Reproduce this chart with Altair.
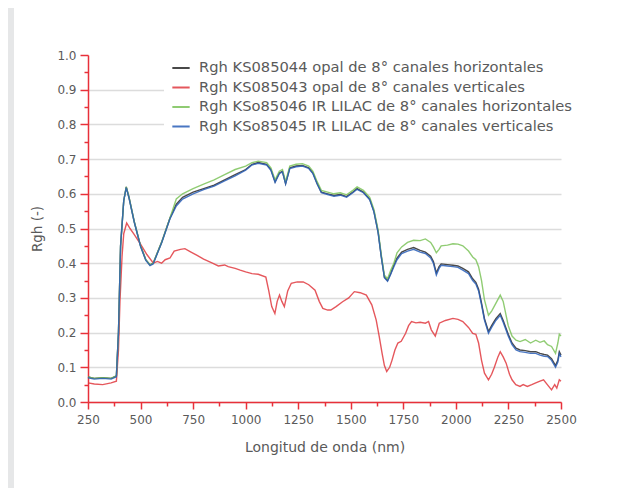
import altair as alt
import pandas as pd

series_names = [
    "Rgh KS085044 opal de 8° canales horizontales",
    "Rgh KS085043 opal de 8° canales verticales",
    "Rgh KSo85046 IR LILAC de 8° canales horizontales",
    "Rgh KSo85045 IR LILAC de 8° canales verticales",
]
series_colors = ["#2a2a2a", "#e03a40", "#7cc35a", "#2a5fb8"]

common_wl = [250, 280, 320, 360, 385, 395, 405, 420, 432, 445, 470, 500, 525, 545, 560, 600, 640]
common_v = [0.072, 0.068, 0.07, 0.068, 0.075, 0.2, 0.45, 0.58, 0.62, 0.59, 0.52, 0.45, 0.41, 0.395, 0.40, 0.46, 0.53]

mid_wl = [670, 700, 750, 800, 850, 900, 950, 1000, 1030, 1060, 1100, 1120, 1140, 1160, 1175, 1190, 1210,
          1240, 1270, 1300, 1320, 1340, 1360, 1390, 1420, 1450, 1480, 1510, 1530, 1560, 1590, 1610, 1630,
          1645, 1660, 1675, 1690, 1705]
black_mid = [0.57, 0.59, 0.605, 0.615, 0.625, 0.64, 0.655, 0.67, 0.685, 0.69, 0.685, 0.67, 0.635, 0.66, 0.665,
             0.63, 0.675, 0.68, 0.682, 0.675, 0.66, 0.63, 0.605, 0.60, 0.595, 0.598, 0.592, 0.605, 0.615, 0.605,
             0.585, 0.55, 0.49, 0.42, 0.36, 0.35, 0.37, 0.395]
green_mid = [0.585, 0.60, 0.615, 0.628, 0.64, 0.655, 0.67, 0.68, 0.69, 0.694, 0.69, 0.675, 0.64, 0.665, 0.67,
             0.635, 0.68, 0.685, 0.687, 0.68, 0.665, 0.635, 0.61, 0.605, 0.60, 0.603, 0.597, 0.61, 0.62, 0.61,
             0.59, 0.555, 0.495, 0.425, 0.365, 0.355, 0.38, 0.40]

late_wl = [1720, 1742, 1770, 1799, 1830, 1855, 1880, 1893, 1907, 1920, 1930, 1960, 1986, 2010, 2033, 2060,
           2080, 2095, 2108, 2122, 2136, 2155, 2170, 2190, 2211, 2225, 2249, 2267, 2286, 2305, 2330, 2355,
           2380, 2400, 2420, 2436, 2455, 2474, 2485, 2492, 2500]
green_late = [0.43, 0.447, 0.46, 0.466, 0.465, 0.47, 0.46, 0.447, 0.43, 0.44, 0.45, 0.452, 0.456, 0.455, 0.45,
              0.435, 0.418, 0.41, 0.39, 0.35, 0.294, 0.25, 0.262, 0.284, 0.308, 0.29, 0.22, 0.19, 0.178, 0.174,
              0.18, 0.17, 0.178, 0.172, 0.176, 0.165, 0.16, 0.14, 0.17, 0.195, 0.19]
blue_late = [0.41, 0.428, 0.435, 0.44, 0.432, 0.428, 0.415, 0.40, 0.366, 0.385, 0.394, 0.392, 0.39, 0.388,
             0.38, 0.37, 0.35, 0.34, 0.32, 0.28, 0.236, 0.198, 0.215, 0.235, 0.25, 0.23, 0.19, 0.165, 0.15,
             0.145, 0.143, 0.14, 0.14, 0.135, 0.132, 0.131, 0.12, 0.10, 0.115, 0.14, 0.13]
black_late = [0.415, 0.432, 0.44, 0.445, 0.437, 0.432, 0.42, 0.405, 0.372, 0.39, 0.398, 0.396, 0.394, 0.392,
              0.385, 0.375, 0.355, 0.345, 0.325, 0.285, 0.24, 0.203, 0.22, 0.24, 0.255, 0.235, 0.195, 0.17,
              0.155, 0.15, 0.148, 0.145, 0.145, 0.14, 0.137, 0.135, 0.125, 0.105, 0.12, 0.145, 0.135]

red_wl = [250, 280, 320, 360, 385, 395, 402, 412, 420, 434, 450, 467, 500, 530, 561, 580, 600, 617, 640, 660,
          690, 711, 740, 767, 800, 842, 870, 900, 917, 950, 974, 1000, 1030, 1060, 1096, 1110, 1124, 1139,
          1150, 1161, 1172, 1184, 1200, 1217, 1245, 1274, 1300, 1330, 1350, 1367, 1390, 1405, 1430, 1461,
          1490, 1517, 1545, 1574, 1600, 1621, 1635, 1649, 1660, 1671, 1685, 1696, 1710, 1724, 1740, 1761,
          1775, 1789, 1810, 1830, 1855, 1870, 1883, 1902, 1921, 1950, 1986, 2010, 2033, 2060, 2080, 2095,
          2108, 2122, 2136, 2155, 2170, 2183, 2200, 2211, 2225, 2239, 2255, 2267, 2285, 2305, 2320, 2340,
          2361, 2380, 2400, 2417, 2435, 2455, 2470, 2480, 2492, 2500]
red_v = [0.055, 0.052, 0.05, 0.055, 0.06, 0.15, 0.29, 0.42, 0.485, 0.516, 0.50, 0.485, 0.455, 0.425, 0.40,
         0.405, 0.40, 0.41, 0.415, 0.435, 0.44, 0.442, 0.432, 0.423, 0.412, 0.40, 0.392, 0.395, 0.39, 0.385,
         0.38, 0.375, 0.37, 0.368, 0.36, 0.32, 0.275, 0.255, 0.29, 0.308, 0.29, 0.275, 0.32, 0.342, 0.346,
         0.346, 0.338, 0.322, 0.29, 0.27, 0.265, 0.265, 0.275, 0.289, 0.30, 0.318, 0.315, 0.308, 0.28, 0.236,
         0.19, 0.14, 0.105, 0.088, 0.10, 0.12, 0.15, 0.17, 0.175, 0.198, 0.22, 0.232, 0.228, 0.23, 0.227,
         0.232, 0.208, 0.19, 0.227, 0.235, 0.241, 0.238, 0.232, 0.215, 0.198, 0.195, 0.17, 0.12, 0.083,
         0.064, 0.08, 0.10, 0.13, 0.145, 0.13, 0.112, 0.08, 0.064, 0.05, 0.045, 0.05, 0.045, 0.05, 0.055,
         0.06, 0.064, 0.05, 0.035, 0.05, 0.04, 0.064, 0.06]

blue_first = [0.07, 0.066, 0.068, 0.066, 0.073, 0.2, 0.45, 0.58, 0.618, 0.588, 0.518, 0.448, 0.408, 0.393,
              0.398, 0.458, 0.528]
blue_mid = [0.565, 0.585, 0.6, 0.612, 0.622, 0.637, 0.652, 0.668, 0.683, 0.688, 0.683, 0.668, 0.633, 0.658,
            0.663, 0.628, 0.673, 0.678, 0.68, 0.673, 0.658, 0.628, 0.603, 0.598, 0.593, 0.596, 0.59, 0.603,
            0.613, 0.603, 0.583, 0.548, 0.488, 0.418, 0.358, 0.348, 0.368, 0.39]

rows = []
def add(name, wl, vals):
    for w, v in zip(wl, vals):
        rows.append({"serie": name, "wl": w, "rgh": v})

add(series_names[0], common_wl + mid_wl + late_wl, common_v + black_mid + black_late)
add(series_names[1], red_wl, red_v)
add(series_names[2], common_wl + mid_wl + late_wl, common_v + green_mid + green_late)
add(series_names[3], common_wl + mid_wl + late_wl, blue_first + blue_mid + blue_late)
df = pd.DataFrame(rows)
df["order"] = df["serie"].map({n: i for i, n in enumerate(series_names)})

x_ticks = list(range(250, 2501, 125))
y_ticks = [round(i * 0.05, 2) for i in range(21)]

W, H = 473, 347
RED = "#e8303a"
FONT = "DejaVu Sans"
TXT = "#5a5a5a"

major_y = "round(datum.value*100) % 10 == 0"

lines = alt.Chart(df).mark_line(strokeWidth=1.4, opacity=0.85).encode(
    x=alt.X("wl:Q", scale=alt.Scale(domain=[250, 2500], nice=False),
            axis=alt.Axis(values=x_ticks, format="d", title="Longitud de onda (nm)",
                          labelExpr="datum.value % 250 == 0 ? datum.label : ''",
                          tickSize={"condition": {"test": "datum.value % 250 == 0", "value": 7}, "value": 4},
                          grid=False, labelPadding=5, titlePadding=15, labelFlush=False, labelOverlap=False,
                          titleFontSize=14)),
    y=alt.Y("rgh:Q", scale=alt.Scale(domain=[0, 1], nice=False),
            axis=alt.Axis(values=y_ticks, format=".1f", title="Rgh (-)",
                          labelExpr=major_y + " ? datum.label : ''",
                          tickSize={"condition": {"test": major_y, "value": 8}, "value": 4},
                          gridColor={"condition": {"test": major_y + " && datum.value < 0.95", "value": "#dcdcdc"}, "value": "transparent"},
                          gridWidth=1.5, labelPadding=4, titlePadding=12, labelFlush=False, labelOverlap=False,
                          titleFontSize=13.5)),
    color=alt.Color("serie:N", sort=series_names,
                    scale=alt.Scale(domain=series_names, range=series_colors),
                    legend=alt.Legend(title=None, orient="none", legendX=76, legendY=-4,
                                      symbolType="stroke", symbolSize=300, symbolStrokeWidth=2,
                                      labelFontSize=14.7, labelColor=TXT, labelFont=FONT,
                                      labelLimit=500, fillColor="white", padding=7,
                                      rowPadding=2.5, labelOffset=8)),
    order="order:Q",
    detail="serie:N",
)

strip = alt.Chart(pd.DataFrame({"a": [0]})).mark_rect(color="#e6e7e8").encode(
    x=alt.value(-80), x2=alt.value(-74), y=alt.value(-47), y2=alt.value(H + 100)
)

chart = alt.layer(strip, lines).properties(
    width=W, height=H,
    autosize=alt.AutoSizeParams(type="none"),
    padding={"left": 80, "top": 47, "right": 48, "bottom": 86},
    background="white",
).configure_axis(
    domainColor=RED, domainWidth=1.5, tickColor=RED, tickWidth=1.5,
    labelColor=TXT, labelFont=FONT, labelFontSize=12,
    titleColor=TXT, titleFont=FONT, titleFontWeight="normal",
).configure_view(stroke=None)

chart.save("out.html", embed_options={"renderer": "svg", "actions": False})
